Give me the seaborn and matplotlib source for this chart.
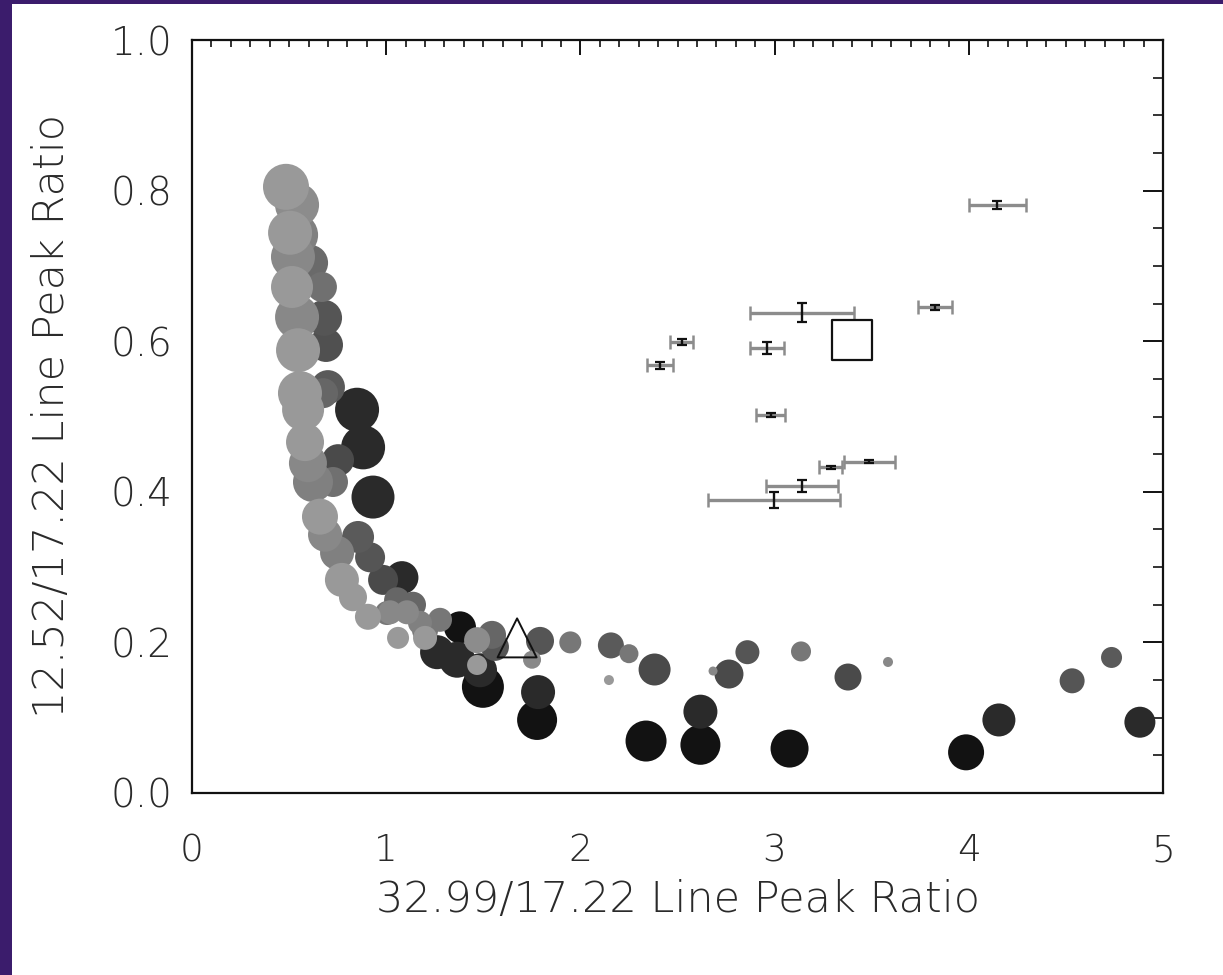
import numpy as np
import pandas as pd
import matplotlib
matplotlib.use("Agg")
import matplotlib.pyplot as plt
import seaborn as sns
from matplotlib.patches import Rectangle
from matplotlib.ticker import MultipleLocator, FormatStrFormatter

# ---------------- data ----------------
# model grid points: x ratio, y ratio, marker diameter (px), gray level (0-255)
model_x = [0.484, 0.541, 0.536, 0.505, 0.608, 0.520, 0.515, 0.669, 0.680, 0.541,
           0.690, 0.546, 0.700, 0.675, 0.556, 0.572, 0.850, 0.881, 0.582, 0.597,
           0.752, 0.726, 0.623, 0.932, 0.659, 0.685, 0.855, 0.917, 0.747, 0.772,
           0.984, 1.081, 0.829, 1.056, 0.906, 1.004, 1.138, 1.200, 1.061, 1.277,
           1.020, 1.107, 1.174, 1.200, 1.380, 1.262, 1.365, 1.468, 1.545, 1.468,
           1.498, 1.483, 1.560, 1.792, 1.948, 1.751, 1.782, 1.777,
           2.157, 2.250, 2.147, 2.382, 2.618, 2.338, 2.618, 2.683, 2.765, 2.860,
           3.077, 3.136, 3.378, 3.584, 3.986, 4.155, 4.532, 4.735, 4.881]
model_y = [0.805, 0.781, 0.741, 0.744, 0.704, 0.712, 0.672, 0.672, 0.631, 0.632,
           0.595, 0.588, 0.539, 0.531, 0.531, 0.509, 0.509, 0.459, 0.466, 0.438,
           0.442, 0.413, 0.413, 0.393, 0.367, 0.343, 0.340, 0.313, 0.319, 0.283,
           0.283, 0.286, 0.260, 0.256, 0.234, 0.239, 0.250, 0.216, 0.206, 0.230,
           0.240, 0.240, 0.226, 0.206, 0.220, 0.187, 0.177, 0.203, 0.210, 0.170,
           0.141, 0.163, 0.194, 0.202, 0.200, 0.177, 0.134, 0.097,
           0.196, 0.185, 0.150, 0.164, 0.108, 0.069, 0.064, 0.162, 0.158, 0.187,
           0.059, 0.188, 0.154, 0.174, 0.054, 0.097, 0.149, 0.180, 0.094]
model_diam = [46, 44, 44, 44, 36, 44, 42, 30, 36, 44,
              34, 44, 34, 30, 44, 42, 44, 44, 38, 38,
              32, 30, 40, 43, 36, 34, 32, 30, 34, 34,
              30, 33, 28, 26, 26, 24, 26, 26, 22, 24,
              24, 24, 24, 24, 32, 34, 36, 26, 28, 20,
              42, 34, 28, 28, 22, 18, 34, 40,
              26, 19, 10, 32, 34, 41, 40, 9, 29, 24,
              38, 20, 27, 10, 36, 33, 25, 21, 31]
model_gray = [153, 140, 128, 153, 106, 136, 153, 112, 85, 136,
              80, 153, 90, 102, 153, 153, 42, 42, 153, 136,
              74, 112, 128, 42, 153, 136, 90, 85, 128, 153,
              74, 42, 153, 102, 153, 119, 102, 119, 153, 119,
              136, 136, 128, 153, 18, 42, 42, 140, 102, 153,
              18, 42, 85, 85, 119, 136, 42, 18,
              90, 119, 153, 74, 42, 18, 18, 136, 74, 85,
              18, 119, 74, 136, 18, 42, 85, 90, 42]

# observations with error bars
obs_x = [4.147, 3.826, 3.140, 2.521, 2.410, 2.959, 2.981, 3.289, 3.488, 3.143, 2.997]
obs_y = [0.781, 0.645, 0.638, 0.599, 0.568, 0.591, 0.502, 0.4325, 0.440, 0.408, 0.389]
obs_xerr = [0.147, 0.088, 0.268, 0.060, 0.067, 0.088, 0.075, 0.058, 0.131, 0.186, 0.342]
obs_yerr = [0.005, 0.003, 0.0126, 0.004, 0.005, 0.008, 0.002, 0.002, 0.002, 0.008, 0.011]

square_x, square_y = [3.400], [0.601]
triangle_x, triangle_y = [1.674], [0.206]

x_ticks = [0, 1, 2, 3, 4, 5]
y_ticks = [0.0, 0.2, 0.4, 0.6, 0.8, 1.0]
x_label = "32.99/17.22 Line Peak Ratio"
y_label = "12.52/17.22 Line Peak Ratio"

# ---------------- plot ----------------
sns.set_style("white")
plt.rcParams["font.family"] = ["DejaVu Sans"]

fig = plt.figure(figsize=(12.23, 9.75), dpi=100)
fig.patch.set_facecolor("white")
purple = "#3b1c6c"
fig.patches.append(Rectangle((0, 0), 12 / 1223, 1, transform=fig.transFigure,
                             facecolor=purple, edgecolor="none", zorder=-5))
fig.patches.append(Rectangle((0, 1 - 4 / 975), 1, 4 / 975, transform=fig.transFigure,
                             facecolor=purple, edgecolor="none", zorder=-5))

ax = fig.add_axes([192 / 1223, (975 - 793) / 975, (1163 - 192) / 1223, (793 - 40) / 975])

df = pd.DataFrame({"x": model_x, "y": model_y, "d": model_diam, "g": model_gray})
df = df.sort_values("g", kind="stable").reset_index(drop=True)
df["s"] = (df["d"] * 72.0 / 100.0) ** 2
palette = {g: "#%02x%02x%02x" % (g, g, g) for g in sorted(df["g"].unique())}
sizes = {s: s for s in df["s"].unique()}

sns.scatterplot(data=df, x="x", y="y", hue="g", palette=palette,
                size="s", sizes=sizes, legend=False,
                linewidth=0, edgecolor="none", ax=ax, zorder=2)

# error bars
eb = ax.errorbar(obs_x, obs_y, xerr=obs_xerr, fmt="none", ecolor="#8c8c8c",
                 elinewidth=2.4, capsize=4.7, capthick=1.8, zorder=3)
for cl in eb[1]:
    cl.set_color("#3a3a3a")
ax.errorbar(obs_x, obs_y, yerr=obs_yerr, fmt="none", ecolor="#111111",
            elinewidth=1.7, capsize=3.6, capthick=1.6, zorder=4)

ax.scatter(square_x, square_y, marker="s", s=(40 * 0.72) ** 2,
           facecolors="none", edgecolors="#111111", linewidths=1.6, zorder=5)
ax.scatter(triangle_x, triangle_y, marker="^", s=(39 * 0.72) ** 2,
           facecolors="none", edgecolors="#111111", linewidths=1.4, zorder=5)

ax.set_xlim(0, 5)
ax.set_ylim(0, 1)
ax.set_xticks(x_ticks)
ax.set_yticks(y_ticks)
ax.xaxis.set_minor_locator(MultipleLocator(0.1))
ax.yaxis.set_minor_locator(MultipleLocator(0.05))
ax.xaxis.set_major_formatter(FormatStrFormatter("%d"))
ax.yaxis.set_major_formatter(FormatStrFormatter("%.1f"))

ax.tick_params(axis="both", which="both", direction="in", top=True, right=True,
               colors="#111111", labelcolor="#2a2a2a")
ax.tick_params(axis="x", which="major", length=10.8, width=1.4, pad=29, labelsize=27)
ax.tick_params(axis="x", which="minor", length=5.0, width=1.2)
ax.tick_params(axis="y", which="major", length=14.4, width=1.4, pad=14, labelsize=28)
ax.tick_params(axis="y", which="minor", length=7.2, width=1.2)
for lab in ax.get_xticklabels() + ax.get_yticklabels():
    lab.set_fontweight("light")

for sp in ax.spines.values():
    sp.set_linewidth(1.6)
    sp.set_color("#111111")

ax.set_xlabel(x_label, fontsize=31, color="#2a2a2a", labelpad=8, fontweight="light")
ax.set_ylabel(y_label, fontsize=31, color="#2a2a2a", labelpad=28, fontweight="light")

fig.savefig("out.png", dpi=100, facecolor=fig.get_facecolor())
